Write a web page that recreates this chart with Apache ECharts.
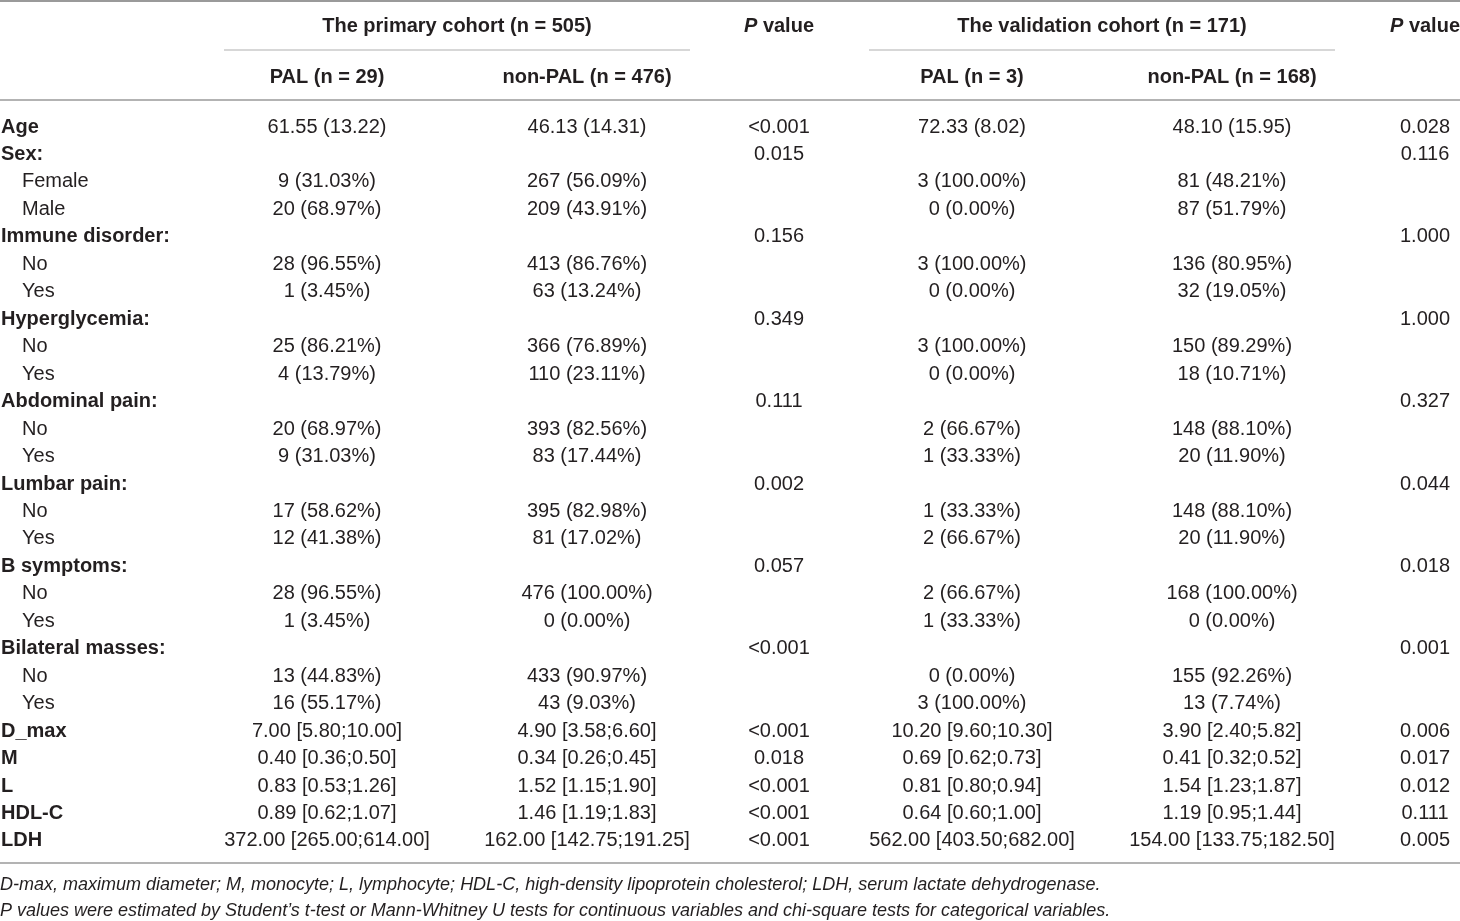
<!DOCTYPE html>
<html><head><meta charset="utf-8">
<script src="https://cdn.jsdelivr.net/npm/echarts@6/dist/echarts.min.js"></script>
<style>html,body{margin:0;padding:0;background:#fff}#c{width:1460px;height:921px}</style>
</head><body><div id="c"></div>
<script>
// ---- table data ----
var rowLabels = ["Age","Sex:","Female","Male","Immune disorder:","No","Yes","Hyperglycemia:","No","Yes","Abdominal pain:","No","Yes","Lumbar pain:","No","Yes","B symptoms:","No","Yes","Bilateral masses:","No","Yes","D_max","M","L","HDL-C","LDH"];
var subLabels = ["Female","Male","No","Yes"];
var primaryPAL = ["61.55 (13.22)","","9 (31.03%)","20 (68.97%)","","28 (96.55%)","1 (3.45%)","","25 (86.21%)","4 (13.79%)","","20 (68.97%)","9 (31.03%)","","17 (58.62%)","12 (41.38%)","","28 (96.55%)","1 (3.45%)","","13 (44.83%)","16 (55.17%)","7.00 [5.80;10.00]","0.40 [0.36;0.50]","0.83 [0.53;1.26]","0.89 [0.62;1.07]","372.00 [265.00;614.00]"];
var primaryNonPAL = ["46.13 (14.31)","","267 (56.09%)","209 (43.91%)","","413 (86.76%)","63 (13.24%)","","366 (76.89%)","110 (23.11%)","","393 (82.56%)","83 (17.44%)","","395 (82.98%)","81 (17.02%)","","476 (100.00%)","0 (0.00%)","","433 (90.97%)","43 (9.03%)","4.90 [3.58;6.60]","0.34 [0.26;0.45]","1.52 [1.15;1.90]","1.46 [1.19;1.83]","162.00 [142.75;191.25]"];
var primaryP = ["<0.001","0.015","","","0.156","","","0.349","","","0.111","","","0.002","","","0.057","","","<0.001","","","<0.001","0.018","<0.001","<0.001","<0.001"];
var validPAL = ["72.33 (8.02)","","3 (100.00%)","0 (0.00%)","","3 (100.00%)","0 (0.00%)","","3 (100.00%)","0 (0.00%)","","2 (66.67%)","1 (33.33%)","","1 (33.33%)","2 (66.67%)","","2 (66.67%)","1 (33.33%)","","0 (0.00%)","3 (100.00%)","10.20 [9.60;10.30]","0.69 [0.62;0.73]","0.81 [0.80;0.94]","0.64 [0.60;1.00]","562.00 [403.50;682.00]"];
var validNonPAL = ["48.10 (15.95)","","81 (48.21%)","87 (51.79%)","","136 (80.95%)","32 (19.05%)","","150 (89.29%)","18 (10.71%)","","148 (88.10%)","20 (11.90%)","","148 (88.10%)","20 (11.90%)","","168 (100.00%)","0 (0.00%)","","155 (92.26%)","13 (7.74%)","3.90 [2.40;5.82]","0.41 [0.32;0.52]","1.54 [1.23;1.87]","1.19 [0.95;1.44]","154.00 [133.75;182.50]"];
var validP = ["0.028","0.116","","","1.000","","","1.000","","","0.327","","","0.044","","","0.018","","","0.001","","","0.006","0.017","0.012","0.111","0.005"];
var groupHeaders = ["The primary cohort (n = 505)","The validation cohort (n = 171)"];
var subHeaders = ["PAL (n = 29)","non-PAL (n = 476)","PAL (n = 3)","non-PAL (n = 168)"];
var footnotes = [
  "D-max, maximum diameter; M, monocyte; L, lymphocyte; HDL-C, high-density lipoprotein cholesterol; LDH, serum lactate dehydrogenase.",
  "P values were estimated by Student\u2019s t-test or Mann-Whitney U tests for continuous variables and chi-square tests for categorical variables."
];

// ---- layout ----
var FONT = '"Liberation Sans", Arial, Helvetica, sans-serif';
var TXT = '#231f20';
var LINE = '#9a9a9a';
var colX = [1, 327, 587, 779, 972, 1232, 1425];
var subIndent = 22;

var columns = [rowLabels, primaryPAL, primaryNonPAL, primaryP, validPAL, validNonPAL, validP];
var cells = [];
columns.forEach(function (col, ci) {
  col.forEach(function (t, ri) { if (t !== '') cells.push([ci, ri, t]); });
});

var chart = echarts.init(document.getElementById('c'));

function hline(x1, x2, y, w, c) {
  return { type: 'line', shape: { x1: x1, y1: y, x2: x2, y2: y }, style: { stroke: c || LINE, lineWidth: w } , silent: true};
}
function txt(x, y, t, opt) {
  return { type: 'text', x: x, y: y, silent: true, style: Object.assign({ text: t, fill: TXT, fontFamily: FONT, fontSize: 20, align: 'center', verticalAlign: 'middle' }, opt || {}) };
}

var graphics = [
  hline(0, 1460, 1, 2),
  hline(224, 690, 50, 1.2, '#b0b0b0'),
  hline(869, 1335, 50, 1.2, '#b0b0b0'),
  hline(0, 1460, 100, 1.6),
  hline(0, 1460, 863, 1.6),
  txt(457, 26, groupHeaders[0], { fontWeight: 'bold' }),
  txt(1102, 26, groupHeaders[1], { fontWeight: 'bold' }),
  txt(327, 77, subHeaders[0], { fontWeight: 'bold' }),
  txt(587, 77, subHeaders[1], { fontWeight: 'bold' }),
  txt(972, 77, subHeaders[2], { fontWeight: 'bold' }),
  txt(1232, 77, subHeaders[3], { fontWeight: 'bold' }),
  txt(779, 26, '{i|P} value', { fontWeight: 'bold', rich: { i: { fontStyle: 'italic', fontWeight: 'bold', fontFamily: FONT, fontSize: 20, fill: TXT } } }),
  txt(1425, 26, '{i|P} value', { fontWeight: 'bold', rich: { i: { fontStyle: 'italic', fontWeight: 'bold', fontFamily: FONT, fontSize: 20, fill: TXT } } }),
  txt(0, 885, footnotes[0], { fontStyle: 'italic', fontSize: 18, align: 'left' }),
  txt(0, 911, footnotes[1], { fontStyle: 'italic', fontSize: 18, align: 'left' })
];

chart.setOption({
  animation: false,
  backgroundColor: '#fff',
  grid: { left: 0, right: 0, top: 113.3, height: 741.4 },
  xAxis: { type: 'value', min: 0, max: 1460, show: false },
  yAxis: { type: 'value', min: -0.5, max: rowLabels.length - 0.5, inverse: true, show: false },
  graphic: graphics,
  series: [{
    type: 'custom',
    clip: false,
    data: cells,
    encode: { x: 0, y: 1 },
    renderItem: function (params, api) {
      var d = cells[params.dataIndex];
      var ci = d[0], ri = d[1], t = d[2];
      var isLabel = ci === 0;
      var isSub = isLabel && subLabels.indexOf(t) >= 0;
      var x = isLabel ? (isSub ? subIndent : colX[0]) : colX[ci];
      var p = api.coord([x, ri]);
      return {
        type: 'text', x: p[0], y: p[1],
        style: {
          text: t, fill: TXT, fontFamily: FONT, fontSize: 20,
          fontWeight: (isLabel && !isSub) ? 'bold' : 'normal',
          align: isLabel ? 'left' : 'center', verticalAlign: 'middle'
        }
      };
    }
  }]
});
</script>
</body></html>
